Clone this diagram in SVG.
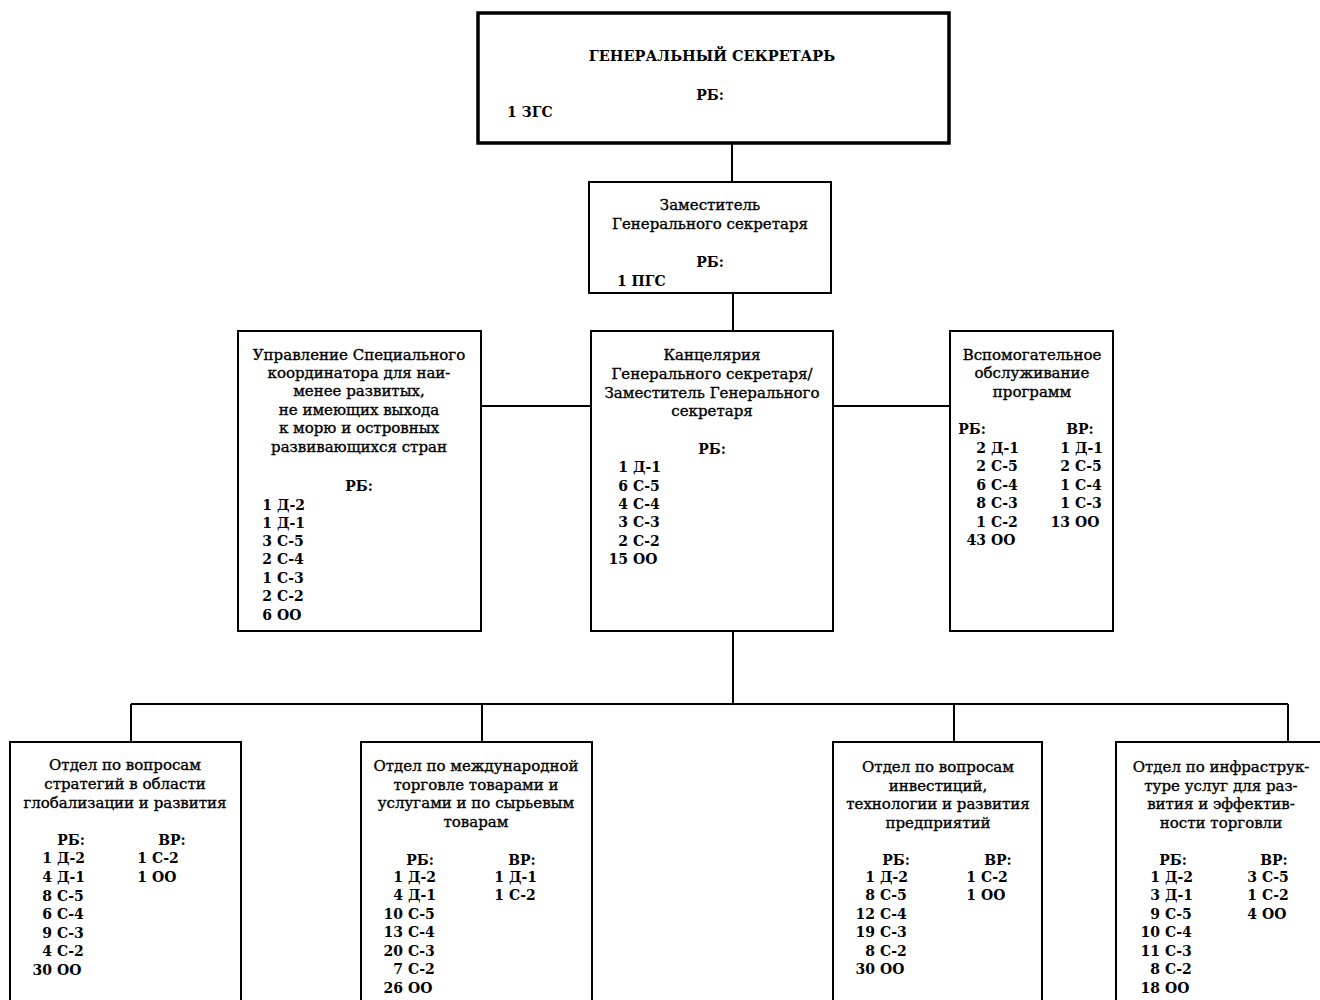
<svg xmlns="http://www.w3.org/2000/svg" width="1320" height="1000" viewBox="0 0 1320 1000">
<style>
.box{fill:#fff;stroke:#000;stroke-width:2}
.thick{stroke-width:3.5}
.t{font-family:"DejaVu Serif","Liberation Serif",serif;font-size:14px;fill:#000}
.h{font-size:15px;stroke:#000;stroke-width:0.35}
.c{text-anchor:middle}
.e{text-anchor:end}
.b{font-weight:bold}
.ln{stroke:#000;stroke-width:2;fill:none}
</style>
<rect width="1320" height="1000" fill="#fff"/>
<g id="connectors" class="ln">
<line x1="732" y1="143" x2="732" y2="182"/>
<line x1="733" y1="293" x2="733" y2="331"/>
<line x1="481" y1="406" x2="591" y2="406"/>
<line x1="833" y1="406" x2="950" y2="406"/>
<line x1="733" y1="631" x2="733" y2="704"/>
<line x1="131" y1="704" x2="1288" y2="704"/>
<line x1="131" y1="704" x2="131" y2="742"/>
<line x1="482" y1="704" x2="482" y2="742"/>
<line x1="954" y1="704" x2="954" y2="742"/>
<line x1="1288" y1="704" x2="1288" y2="742"/>
</g>
<g id="sg">
<rect class="box thick" x="478" y="13" width="471" height="130"/>
<text class="t c b" x="712" y="61" style="font-size:14.5px">ГЕНЕРАЛЬНЫЙ СЕКРЕТАРЬ</text>
<text class="t c b" x="710" y="100">РБ:</text>
<text class="t b" x="507" y="117">1 ЗГС</text>
</g>
<g id="dsg">
<rect class="box" x="589" y="182" width="242" height="111"/>
<text class="t h c" x="710" y="210">Заместитель</text>
<text class="t h c" x="710" y="229">Генерального секретаря</text>
<text class="t c b" x="710" y="267">РБ:</text>
<text class="t b" x="617" y="286">1 ПГС</text>
</g>
<g id="ldc">
<rect class="box" x="238" y="331" width="243" height="300"/>
<text class="t h c" x="359" y="360">Управление Специального</text>
<text class="t h c" x="359" y="378">координатора для наи-</text>
<text class="t h c" x="359" y="396">менее развитых,</text>
<text class="t h c" x="359" y="415">не имеющих выхода</text>
<text class="t h c" x="359" y="433">к морю и островных</text>
<text class="t h c" x="359" y="452">развивающихся стран</text>
<text class="t c b" x="359" y="491">РБ:</text>
<g class="t b">
<text class="e" x="272" y="510">1</text><text x="277" y="510">Д-2</text>
<text class="e" x="272" y="528">1</text><text x="277" y="528">Д-1</text>
<text class="e" x="272" y="546">3</text><text x="277" y="546">С-5</text>
<text class="e" x="272" y="564">2</text><text x="277" y="564">С-4</text>
<text class="e" x="272" y="583">1</text><text x="277" y="583">С-3</text>
<text class="e" x="272" y="601">2</text><text x="277" y="601">С-2</text>
<text class="e" x="272" y="620">6</text><text x="277" y="620">ОО</text>
</g>
</g>
<g id="office">
<rect class="box" x="591" y="331" width="242" height="300"/>
<text class="t h c" x="712" y="360">Канцелярия</text>
<text class="t h c" x="712" y="379">Генерального секретаря/</text>
<text class="t h c" x="712" y="398">Заместитель Генерального</text>
<text class="t h c" x="712" y="416">секретаря</text>
<text class="t c b" x="712" y="454">РБ:</text>
<g class="t b">
<text class="e" x="628" y="472">1</text><text x="633" y="472">Д-1</text>
<text class="e" x="628" y="491">6</text><text x="633" y="491">С-5</text>
<text class="e" x="628" y="509">4</text><text x="633" y="509">С-4</text>
<text class="e" x="628" y="527">3</text><text x="633" y="527">С-3</text>
<text class="e" x="628" y="546">2</text><text x="633" y="546">С-2</text>
<text class="e" x="628" y="564">15</text><text x="633" y="564">ОО</text>
</g>
</g>
<g id="support">
<rect class="box" x="950" y="331" width="163" height="300"/>
<text class="t h c" x="1032" y="360">Вспомогательное</text>
<text class="t h c" x="1032" y="378">обслуживание</text>
<text class="t h c" x="1032" y="397">программ</text>
<text class="t c b" x="972" y="434">РБ:</text>
<text class="t c b" x="1080" y="434">ВР:</text>
<g class="t b">
<text class="e" x="986" y="453">2</text><text x="991" y="453">Д-1</text>
<text class="e" x="986" y="471">2</text><text x="991" y="471">С-5</text>
<text class="e" x="986" y="490">6</text><text x="991" y="490">С-4</text>
<text class="e" x="986" y="508">8</text><text x="991" y="508">С-3</text>
<text class="e" x="986" y="527">1</text><text x="991" y="527">С-2</text>
<text class="e" x="986" y="545">43</text><text x="991" y="545">ОО</text>
<text class="e" x="1070" y="453">1</text><text x="1075" y="453">Д-1</text>
<text class="e" x="1070" y="471">2</text><text x="1075" y="471">С-5</text>
<text class="e" x="1070" y="490">1</text><text x="1075" y="490">С-4</text>
<text class="e" x="1070" y="508">1</text><text x="1075" y="508">С-3</text>
<text class="e" x="1070" y="527">13</text><text x="1075" y="527">ОО</text>
</g>
</g>
<g id="div1">
<rect class="box" x="10" y="742" width="231" height="280"/>
<text class="t h c" x="125" y="770">Отдел по вопросам</text>
<text class="t h c" x="125" y="789">стратегий в области</text>
<text class="t h c" x="125" y="808">глобализации и развития</text>
<text class="t c b" x="71" y="845">РБ:</text>
<text class="t c b" x="172" y="845">ВР:</text>
<g class="t b">
<text class="e" x="52" y="863">1</text><text x="57" y="863">Д-2</text>
<text class="e" x="52" y="882">4</text><text x="57" y="882">Д-1</text>
<text class="e" x="52" y="901">8</text><text x="57" y="901">С-5</text>
<text class="e" x="52" y="919">6</text><text x="57" y="919">С-4</text>
<text class="e" x="52" y="938">9</text><text x="57" y="938">С-3</text>
<text class="e" x="52" y="956">4</text><text x="57" y="956">С-2</text>
<text class="e" x="52" y="975">30</text><text x="57" y="975">ОО</text>
<text class="e" x="147" y="863">1</text><text x="152" y="863">С-2</text>
<text class="e" x="147" y="882">1</text><text x="152" y="882">ОО</text>
</g>
</g>
<g id="div2">
<rect class="box" x="361" y="742" width="231" height="280"/>
<text class="t h c" x="476" y="771">Отдел по международной</text>
<text class="t h c" x="476" y="790">торговле товарами и</text>
<text class="t h c" x="476" y="808">услугами и по сырьевым</text>
<text class="t h c" x="476" y="827">товарам</text>
<text class="t c b" x="420" y="865">РБ:</text>
<text class="t c b" x="522" y="865">ВР:</text>
<g class="t b">
<text class="e" x="403" y="882">1</text><text x="408" y="882">Д-2</text>
<text class="e" x="403" y="900">4</text><text x="408" y="900">Д-1</text>
<text class="e" x="403" y="919">10</text><text x="408" y="919">С-5</text>
<text class="e" x="403" y="937">13</text><text x="408" y="937">С-4</text>
<text class="e" x="403" y="956">20</text><text x="408" y="956">С-3</text>
<text class="e" x="403" y="974">7</text><text x="408" y="974">С-2</text>
<text class="e" x="403" y="993">26</text><text x="408" y="993">ОО</text>
<text class="e" x="504" y="882">1</text><text x="509" y="882">Д-1</text>
<text class="e" x="504" y="900">1</text><text x="509" y="900">С-2</text>
</g>
</g>
<g id="div3">
<rect class="box" x="833" y="742" width="209" height="280"/>
<text class="t h c" x="938" y="772">Отдел по вопросам</text>
<text class="t h c" x="938" y="791">инвестиций,</text>
<text class="t h c" x="938" y="809">технологии и развития</text>
<text class="t h c" x="938" y="828">предприятий</text>
<text class="t c b" x="896" y="865">РБ:</text>
<text class="t c b" x="998" y="865">ВР:</text>
<g class="t b">
<text class="e" x="875" y="882">1</text><text x="880" y="882">Д-2</text>
<text class="e" x="875" y="900">8</text><text x="880" y="900">С-5</text>
<text class="e" x="875" y="919">12</text><text x="880" y="919">С-4</text>
<text class="e" x="875" y="937">19</text><text x="880" y="937">С-3</text>
<text class="e" x="875" y="956">8</text><text x="880" y="956">С-2</text>
<text class="e" x="875" y="974">30</text><text x="880" y="974">ОО</text>
<text class="e" x="976" y="882">1</text><text x="981" y="882">С-2</text>
<text class="e" x="976" y="900">1</text><text x="981" y="900">ОО</text>
</g>
</g>
<g id="div4">
<rect class="box" x="1116" y="742" width="220" height="280"/>
<text class="t h c" x="1221" y="772">Отдел по инфраструк-</text>
<text class="t h c" x="1221" y="791">туре услуг для раз-</text>
<text class="t h c" x="1221" y="809">вития и эффектив-</text>
<text class="t h c" x="1221" y="828">ности торговли</text>
<text class="t c b" x="1173" y="865">РБ:</text>
<text class="t c b" x="1274" y="865">ВР:</text>
<g class="t b">
<text class="e" x="1160" y="882">1</text><text x="1165" y="882">Д-2</text>
<text class="e" x="1160" y="900">3</text><text x="1165" y="900">Д-1</text>
<text class="e" x="1160" y="919">9</text><text x="1165" y="919">С-5</text>
<text class="e" x="1160" y="937">10</text><text x="1165" y="937">С-4</text>
<text class="e" x="1160" y="956">11</text><text x="1165" y="956">С-3</text>
<text class="e" x="1160" y="974">8</text><text x="1165" y="974">С-2</text>
<text class="e" x="1160" y="993">18</text><text x="1165" y="993">ОО</text>
<text class="e" x="1257" y="882">3</text><text x="1262" y="882">С-5</text>
<text class="e" x="1257" y="900">1</text><text x="1262" y="900">С-2</text>
<text class="e" x="1257" y="919">4</text><text x="1262" y="919">ОО</text>
</g>
</g>
</svg>
